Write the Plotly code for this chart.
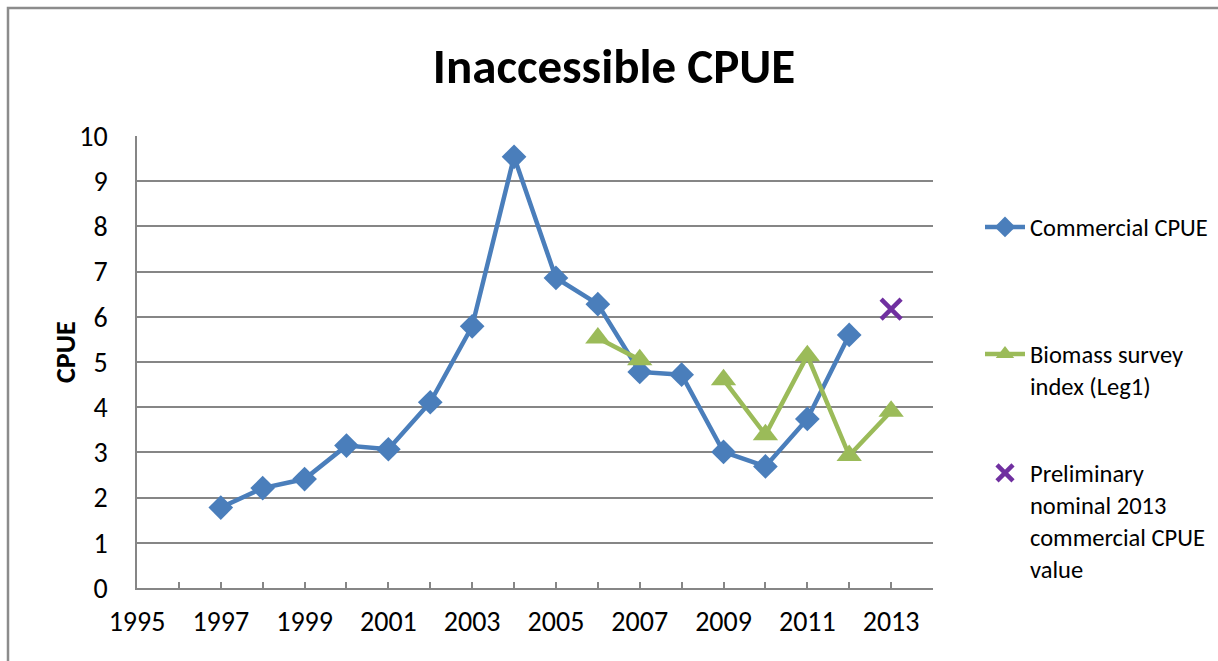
import plotly.graph_objects as go

years_comm = [1997, 1998, 1999, 2000, 2001, 2002, 2003, 2004, 2005, 2006, 2007, 2008, 2009, 2010, 2011, 2012]
cpue_comm = [1.78, 2.21, 2.41, 3.15, 3.07, 4.11, 5.79, 9.54, 6.86, 6.28, 4.78, 4.72, 3.01, 2.69, 3.74, 5.60]

years_bio = [2006, 2007, 2009, 2010, 2011, 2012, 2013]
cpue_bio = [5.53, 5.05, 4.61, 3.39, 5.14, 2.93, 3.91]
bio_gap_year = 2008  # survey missing -> break in line

years_prelim = [2013]
cpue_prelim = [6.17]

x_labels = [1995, 1997, 1999, 2001, 2003, 2005, 2007, 2009, 2011, 2013]

FONT = "Carlito, Lato, 'Open Sans', sans-serif"
W, H = 1218, 661
L, R, T, B = 137, 285, 136, 73
pw, ph = W - L - R, H - T - B

def px_x(p):
    return (p - L) / pw

def px_y(p):
    return (H - B - p) / ph

def cx(p):
    return p / W

def cy(p):
    return 1 - p / H

bx, by = [], []
for yr, v in zip(years_bio, cpue_bio):
    if yr == 2009:
        bx.append(bio_gap_year)
        by.append(None)
    bx.append(yr)
    by.append(v)

fig = go.Figure()
fig.add_trace(go.Scatter(
    x=years_comm, y=cpue_comm, mode="lines+markers", name="Commercial CPUE",
    line=dict(color="#4A7EBB", width=4.5),
    marker=dict(symbol="diamond", size=19, color="#4A7EBB"),
    legend="legend",
))
fig.add_trace(go.Scatter(
    x=bx, y=by, mode="lines+markers", name="Biomass survey<br>index (Leg1)",
    line=dict(color="#9BBB59", width=4.5),
    marker=dict(symbol="triangle-up", size=22, color="#9BBB59"),
    connectgaps=False, legend="legend2",
))
fig.add_trace(go.Scatter(
    x=years_prelim, y=cpue_prelim, mode="markers",
    name="Preliminary<br>nominal 2013<br>commercial CPUE<br>value",
    marker=dict(symbol="x-thin", size=20, color="#7030A0",
                line=dict(color="#7030A0", width=4.5)),
    legend="legend3",
))

leg_common = dict(xanchor="left", yanchor="middle", xref="container", yref="container",
                  font=dict(family=FONT, size=24.5, color="black"),
                  bgcolor="rgba(0,0,0,0)", itemwidth=40, valign="top")

fig.update_layout(
    width=W, height=H,
    margin=dict(l=L, r=R, t=T, b=B, autoexpand=False),
    paper_bgcolor="white", plot_bgcolor="white",
    font=dict(family=FONT, size=28, color="black"),
    title=dict(text="<b>Inaccessible CPUE</b>", x=cx(614), xanchor="center",
               xref="container", y=cy(66), yanchor="middle",
               font=dict(family=FONT, size=49, color="black")),
    showlegend=True,
    legend=dict(x=cx(980), y=cy(227), **leg_common),
    legend2=dict(x=cx(980), y=cy(370), **leg_common),
    legend3=dict(x=cx(980), y=cy(521), **leg_common),
    xaxis=dict(range=[1995, 2014], tickvals=x_labels,
               ticktext=[str(v) for v in x_labels],
               ticks="inside", ticklen=6, tickcolor="#868686", tickwidth=1.5,
               minor=dict(dtick=1, tick0=1995, ticks="inside", ticklen=6,
                          tickcolor="#868686", tickwidth=1.5, showgrid=False),
               showgrid=False, zeroline=False,
               showline=True, linecolor="#868686", linewidth=1.5,
               tickfont=dict(family=FONT, size=28), ticklabelstandoff=8),
    yaxis=dict(range=[0, 10], dtick=1, showgrid=True, gridcolor="#868686",
               gridwidth=1.5, zeroline=False,
               showline=True, linecolor="#868686", linewidth=1.5,
               ticks="", tickfont=dict(family=FONT, size=28),
               ticklabelstandoff=22),
    annotations=[dict(text="<b>CPUE</b>", xref="paper", yref="paper",
                      x=px_x(65), y=px_y(352), textangle=-90,
                      xanchor="center", yanchor="middle", showarrow=False,
                      font=dict(family=FONT, size=28, color="black"))],
    shapes=[dict(type="rect", xref="paper", yref="paper",
                 x0=px_x(8), x1=px_x(1240), y0=px_y(690), y1=px_y(8),
                 line=dict(color="#8C8C8C", width=2.5), layer="below")],
)

fig.write_html("out.html", config={"displayModeBar": False},
               post_script="document.body.style.margin='0';")
